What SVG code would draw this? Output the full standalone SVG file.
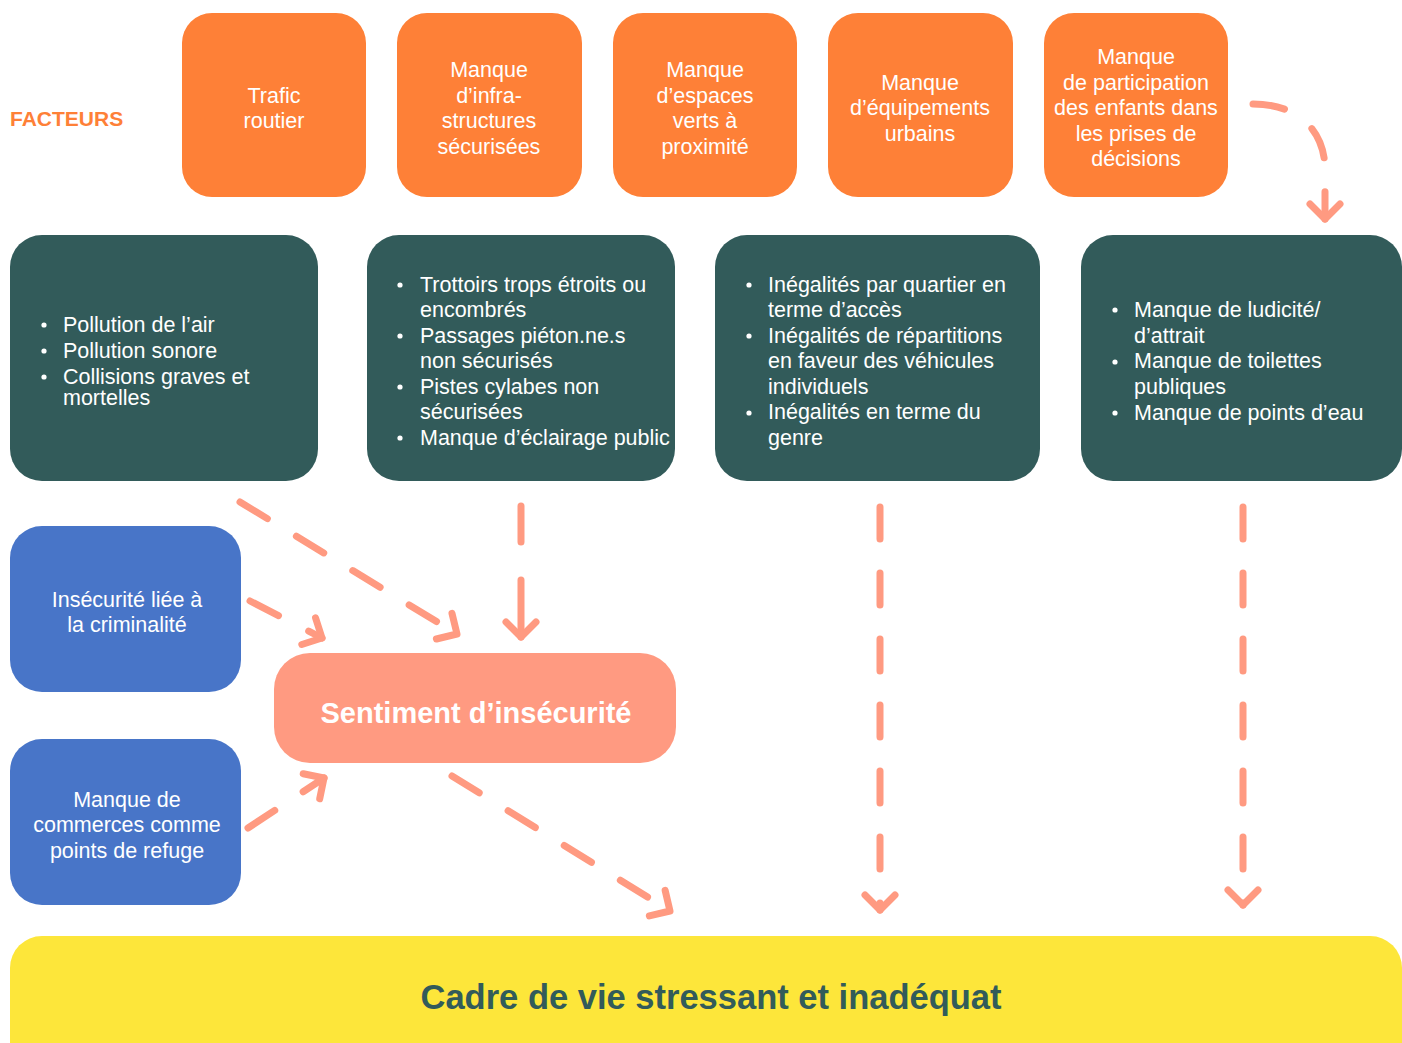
<svg xmlns="http://www.w3.org/2000/svg" width="1402" height="1043" viewBox="0 0 1402 1043">
<style>
.t{font-family:"Liberation Sans",Arial,sans-serif;font-size:21.5px;fill:#ffffff}
.c{text-anchor:middle}
.org{fill:#FE8037}
.drk{fill:#325B5A}
.blu{fill:#4875C8}
.bul{fill:#ffffff}
.con{fill:none;stroke:#FF9A81;stroke-width:7;stroke-linecap:round;stroke-dasharray:32 34;marker-end:url(#ah)}
</style>
<defs>
<marker id="ah" markerUnits="userSpaceOnUse" markerWidth="40" markerHeight="40" viewBox="-20 -20 40 40" refX="0" refY="0" orient="auto" overflow="visible">
<path d="M-15,-15 L0,0 L-15,15" fill="none" stroke="#FF9A81" stroke-width="7" stroke-linecap="round" stroke-linejoin="round"/>
</marker>
</defs>
<rect width="1402" height="1043" fill="#ffffff"/>
<text x="10" y="126" font-family="Liberation Sans, Arial, sans-serif" font-weight="bold" font-size="21px" fill="#FE8037">FACTEURS</text>

<g id="f1"><rect class="org" x="182" y="13" width="184" height="184" rx="30"/>
<text class="t c" x="274"><tspan x="274" y="103">Trafic</tspan><tspan x="274" y="128">routier</tspan></text></g>
<g id="f2"><rect class="org" x="397" y="13" width="185" height="184" rx="30"/>
<text class="t c"><tspan x="489" y="77">Manque</tspan><tspan x="489" y="102.5">d’infra-</tspan><tspan x="489" y="128">structures</tspan><tspan x="489" y="153.5">sécurisées</tspan></text></g>
<g id="f3"><rect class="org" x="613" y="13" width="184" height="184" rx="30"/>
<text class="t c"><tspan x="705" y="77">Manque</tspan><tspan x="705" y="102.5">d’espaces</tspan><tspan x="705" y="128">verts à</tspan><tspan x="705" y="153.5">proximité</tspan></text></g>
<g id="f4"><rect class="org" x="828" y="13" width="185" height="184" rx="30"/>
<text class="t c"><tspan x="920" y="90">Manque</tspan><tspan x="920" y="115">d’équipements</tspan><tspan x="920" y="140.5">urbains</tspan></text></g>
<g id="f5"><rect class="org" x="1044" y="13" width="184" height="184" rx="30"/>
<text class="t c"><tspan x="1136" y="64">Manque</tspan><tspan x="1136" y="89.5">de participation</tspan><tspan x="1136" y="115">des enfants dans</tspan><tspan x="1136" y="140.5">les prises de</tspan><tspan x="1136" y="166">décisions</tspan></text></g>

<g id="d1"><rect class="drk" x="10" y="235" width="308" height="246" rx="32"/>
<circle class="bul" cx="44" cy="325" r="2.6"/><circle class="bul" cx="44" cy="351" r="2.6"/><circle class="bul" cx="44" cy="377" r="2.6"/>
<text class="t"><tspan x="63" y="331.5">Pollution de l’air</tspan><tspan x="63" y="357.5">Pollution sonore</tspan><tspan x="63" y="383.5">Collisions graves et</tspan><tspan x="63" y="405">mortelles</tspan></text></g>

<g id="d2"><rect class="drk" x="367" y="235" width="308" height="246" rx="32"/>
<circle class="bul" cx="400" cy="285" r="2.6"/><circle class="bul" cx="400" cy="336" r="2.6"/><circle class="bul" cx="400" cy="387" r="2.6"/><circle class="bul" cx="400" cy="438" r="2.6"/>
<text class="t"><tspan x="420" y="291.5">Trottoirs trops étroits ou</tspan><tspan x="420" y="316.5">encombrés</tspan><tspan x="420" y="342.5">Passages piéton.ne.s</tspan><tspan x="420" y="367.5">non sécurisés</tspan><tspan x="420" y="393.5">Pistes cylabes non</tspan><tspan x="420" y="418.5">sécurisées</tspan><tspan x="420" y="444.5">Manque d’éclairage public</tspan></text></g>

<g id="d3"><rect class="drk" x="715" y="235" width="325" height="246" rx="32"/>
<circle class="bul" cx="749" cy="285" r="2.6"/><circle class="bul" cx="749" cy="336" r="2.6"/><circle class="bul" cx="749" cy="413" r="2.6"/>
<text class="t"><tspan x="768" y="291.5">Inégalités par quartier en</tspan><tspan x="768" y="316.5">terme d’accès</tspan><tspan x="768" y="342.5">Inégalités de répartitions</tspan><tspan x="768" y="368">en faveur des véhicules</tspan><tspan x="768" y="393.5">individuels</tspan><tspan x="768" y="419">Inégalités en terme du</tspan><tspan x="768" y="444.5">genre</tspan></text></g>

<g id="d4"><rect class="drk" x="1081" y="235" width="321" height="246" rx="32"/>
<circle class="bul" cx="1115" cy="310" r="2.6"/><circle class="bul" cx="1115" cy="362" r="2.6"/><circle class="bul" cx="1115" cy="413" r="2.6"/>
<text class="t"><tspan x="1134" y="316.5">Manque de ludicité/</tspan><tspan x="1134" y="342.5">d’attrait</tspan><tspan x="1134" y="368">Manque de toilettes</tspan><tspan x="1134" y="393.5">publiques</tspan><tspan x="1134" y="419.5">Manque de points d’eau</tspan></text></g>

<g id="b1"><rect class="blu" x="10" y="526" width="231" height="166" rx="32"/>
<text class="t c"><tspan x="127" y="607">Insécurité liée à</tspan><tspan x="127" y="632">la criminalité</tspan></text></g>
<g id="b2"><rect class="blu" x="10" y="739" width="231" height="166" rx="32"/>
<text class="t c"><tspan x="127" y="807">Manque de</tspan><tspan x="127" y="832">commerces comme</tspan><tspan x="127" y="858">points de refuge</tspan></text></g>

<g id="sentiment"><rect x="274" y="653" width="402" height="110" rx="36" fill="#FF9A81"/>
<text x="476" y="722.5" text-anchor="middle" font-family="Liberation Sans, Arial, sans-serif" font-weight="bold" font-size="29px" fill="#ffffff">Sentiment d’insécurité</text></g>

<g id="cadre"><rect x="10" y="936" width="1392" height="140" rx="32" fill="#FDE63A"/>
<text x="711" y="1009" text-anchor="middle" font-family="Liberation Sans, Arial, sans-serif" font-weight="bold" font-size="34.5px" fill="#325B5A">Cadre de vie stressant et inadéquat</text></g>

<g id="connectors">
<path class="con" d="M1253,104 C1300,104 1325,132 1325,170 L1325,219"/>
<path class="con" d="M240,502 L457,634"/>
<path class="con" d="M521,506 L521,637" style="stroke-dasharray:36 38 100"/>
<path class="con" d="M250,601 L322,638"/>
<path class="con" d="M248,828 L324,778"/>
<path class="con" d="M452,776 L670,911"/>
<path class="con" d="M880,507 L880,910"/>
<path class="con" d="M1243,507 L1243,905"/>
</g>
</svg>
